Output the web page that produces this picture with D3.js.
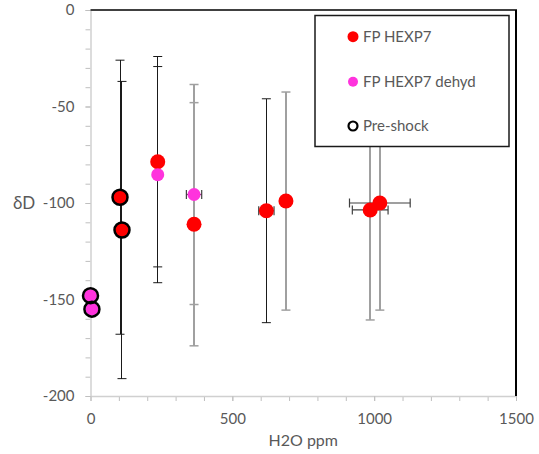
<!DOCTYPE html>
<html>
<head>
<meta charset="utf-8">
<script src="https://cdn.jsdelivr.net/npm/d3@7"></script>
<style>
  body { margin: 0; background: #fff; }
  text { font-family: Lato, "Open Sans", sans-serif; }
</style>
</head>
<body>
<script>
// Step 1: data
//= ================================
var hexpX = [104, 111, 237, 365, 620, 689, 986, 1020];
var hexpY = [-97, -114, -78.6, -111, -104, -99, -103.6, -100];
var hexpYErr = [71, 77, 54.5, 63, 58, 56.5, 57, 55.5];
var hexpXErr = [0, 0, 0, 0, 27, 0, 63, 107];

var dehydX = [0, 5, 237, 365];
var dehydY = [-148, -155, -85.3, -95.6];
var dehydYErr = [0, 0, 56, 57];
var dehydXErr = [0, 0, 0, 27];

var preX = [104, 111, 0, 5];
var preY = [-97, -114, -148, -155];

var xTicks = [0, 500, 1000, 1500];
var yTicks = [0, -50, -100, -150, -200];
var legendNames = ["FP HEXP7", "FP HEXP7 dehyd", "Pre-shock"];

// Step 2: chart setup
//= ================================
var svgWidth = 539;
var svgHeight = 454;

var margin = {
  top: 10,
  right: 23,
  bottom: 58,
  left: 90.5
};

var width = svgWidth - margin.left - margin.right;
var height = svgHeight - margin.top - margin.bottom;

var svg = d3.select("body")
  .append("svg")
  .attr("width", svgWidth)
  .attr("height", svgHeight);

var chartGroup = svg.append("g")
  .attr("transform", `translate(${margin.left}, ${margin.top})`);

var xScale = d3.scaleLinear().domain([0, 1500]).range([0, width]);
var yScale = d3.scaleLinear().domain([-200, 0]).range([height, 0]);

// plain hyphen minus, no thousands comma (like the original)
var plainFormat = d => String(d);

// Step 3: axes (minor ticks first, then labelled ones)
//= ================================
var tickColor = "#bfbfbf";
var labelColor = "#595959";

chartGroup.append("g")
  .attr("transform", `translate(0, ${height})`)
  .call(d3.axisBottom(xScale).tickValues(xScale.ticks(15)).tickSize(5).tickFormat(""))
  .call(g => g.select(".domain").remove())
  .call(g => g.selectAll("line").attr("stroke", tickColor));

chartGroup.append("g")
  .call(d3.axisLeft(yScale).tickValues(yScale.ticks(20)).tickSize(5).tickFormat(""))
  .call(g => g.select(".domain").remove())
  .call(g => g.selectAll("line").attr("stroke", tickColor));

var xAxis = chartGroup.append("g")
  .attr("transform", `translate(0, ${height})`)
  .call(d3.axisBottom(xScale).tickValues(xTicks).tickFormat(plainFormat)
    .tickSize(5).tickSizeOuter(0).tickPadding(12));

var yAxis = chartGroup.append("g")
  .call(d3.axisLeft(yScale).tickValues(yTicks).tickFormat(plainFormat)
    .tickSize(5).tickSizeOuter(0).tickPadding(11));

[xAxis, yAxis].forEach(function(ax) {
  ax.select(".domain").attr("stroke", "#d0d0d0").attr("stroke-width", 1.5);
  ax.selectAll("line").attr("stroke", tickColor);
  ax.selectAll("text").attr("fill", labelColor).style("font-size", "15px").style("font-family", "Lato, sans-serif");
});

// axis titles
svg.append("text")
  .attr("x", 13)
  .attr("y", margin.top + yScale(-100))
  .attr("dy", "0.35em")
  .attr("fill", labelColor)
  .style("font-size", "17px")
  .text("δD");

svg.append("text")
  .attr("x", margin.left + width / 2)
  .attr("y", 446)
  .attr("text-anchor", "middle")
  .attr("fill", labelColor)
  .style("font-size", "16px")
  .text("H2O ppm");

// Step 4: error bars
//= ================================
var darkBarsHexp = [0, 1, 2, 4];
var darkBarsDehyd = [2];
var capHalf = 4.5;

function errorBars(xs, ys, yErr, xErr, darkList) {
  xs.forEach(function(xv, i) {
    var dark = darkList.indexOf(i) >= 0;
    var col = dark ? "#1a1a1a" : "#a0a0a0";
    var sw = dark ? 1 : 1.5;
    var cx = xScale(xv);
    var cy = yScale(ys[i]);
    var g = chartGroup.append("g").attr("stroke", col).attr("stroke-width", sw);
    if (yErr[i] > 0) {
      var top = yScale(ys[i] + yErr[i]);
      var bot = yScale(ys[i] - yErr[i]);
      g.append("line").attr("x1", cx).attr("x2", cx).attr("y1", top).attr("y2", bot)
        .attr("shape-rendering", "crispEdges");
      g.append("line").attr("x1", cx - capHalf).attr("x2", cx + capHalf).attr("y1", top).attr("y2", top);
      g.append("line").attr("x1", cx - capHalf).attr("x2", cx + capHalf).attr("y1", bot).attr("y2", bot);
    }
    if (xErr[i] > 0) {
      var left = xScale(xv - xErr[i]);
      var right = xScale(xv + xErr[i]);
      var hg = chartGroup.append("g").attr("stroke", "#404040").attr("stroke-width", 1.2);
      hg.append("line").attr("x1", left).attr("x2", right).attr("y1", cy).attr("y2", cy);
      hg.append("line").attr("x1", left).attr("x2", left).attr("y1", cy - capHalf).attr("y2", cy + capHalf);
      hg.append("line").attr("x1", right).attr("x2", right).attr("y1", cy - capHalf).attr("y2", cy + capHalf);
    }
  });
}

errorBars(hexpX, hexpY, hexpYErr, hexpXErr, darkBarsHexp);
errorBars(dehydX, dehydY, dehydYErr, dehydXErr, darkBarsDehyd);

// Step 5: points
//= ================================
var red = "#ff0000";
var magenta = "#ff33dd";

chartGroup.selectAll(".hexp")
  .data(hexpX)
  .enter()
  .append("circle")
  .attr("cx", (d, i) => xScale(d))
  .attr("cy", (d, i) => yScale(hexpY[i]))
  .attr("r", 7.5)
  .attr("fill", red);

chartGroup.selectAll(".dehyd")
  .data(dehydX)
  .enter()
  .append("circle")
  .attr("cx", (d, i) => xScale(d))
  .attr("cy", (d, i) => yScale(dehydY[i]))
  .attr("r", 6.5)
  .attr("fill", magenta);

chartGroup.selectAll(".pre")
  .data(preX)
  .enter()
  .append("circle")
  .attr("cx", (d, i) => xScale(d))
  .attr("cy", (d, i) => yScale(preY[i]))
  .attr("r", 7.5)
  .attr("fill", "none")
  .attr("stroke", "#000")
  .attr("stroke-width", 2.5);

// Step 6: frame lines on top and right
//= ================================
chartGroup.append("line")
  .attr("x1", 0).attr("x2", width + 1)
  .attr("y1", 0).attr("y2", 0)
  .attr("stroke", "#404040").attr("stroke-width", 2);

chartGroup.append("line")
  .attr("x1", width).attr("x2", width)
  .attr("y1", 0).attr("y2", height)
  .attr("stroke", "#000").attr("stroke-width", 2);

// Step 7: legend
//= ================================
var legend = svg.append("g");
legend.append("rect")
  .attr("x", 315).attr("y", 15.5)
  .attr("width", 194).attr("height", 131)
  .attr("fill", "#fff")
  .attr("stroke", "#1a1a1a")
  .attr("stroke-width", 1.5);

var legendY = [36.7, 81.7, 126];
legendNames.forEach(function(name, i) {
  var row = legend.append("g").attr("transform", `translate(353, ${legendY[i]})`);
  if (i === 0) row.append("circle").attr("r", 5.5).attr("fill", red);
  if (i === 1) row.append("circle").attr("r", 5).attr("fill", magenta);
  if (i === 2) row.append("circle").attr("r", 4.5).attr("fill", "none").attr("stroke", "#000").attr("stroke-width", 2.2);
  row.append("text")
    .attr("x", 10)
    .attr("dy", "0.35em")
    .attr("fill", labelColor)
    .style("font-size", "15px")
    .text(name);
});
</script>
</body>
</html>
